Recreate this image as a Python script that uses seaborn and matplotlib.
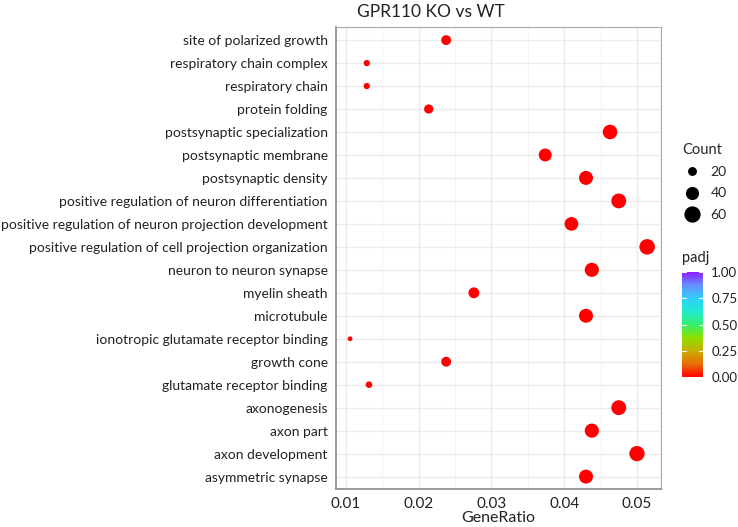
import numpy as np
import pandas as pd
import matplotlib
matplotlib.use("Agg")
import matplotlib.pyplot as plt
import seaborn as sns
from matplotlib.colors import LinearSegmentedColormap, Normalize
from matplotlib.cm import ScalarMappable
from matplotlib.lines import Line2D

terms = [
    "site of polarized growth",
    "respiratory chain complex",
    "respiratory chain",
    "protein folding",
    "postsynaptic specialization",
    "postsynaptic membrane",
    "postsynaptic density",
    "positive regulation of neuron differentiation",
    "positive regulation of neuron projection development",
    "positive regulation of cell projection organization",
    "neuron to neuron synapse",
    "myelin sheath",
    "microtubule",
    "ionotropic glutamate receptor binding",
    "growth cone",
    "glutamate receptor binding",
    "axonogenesis",
    "axon part",
    "axon development",
    "asymmetric synapse",
]
gene_ratio = [0.0238, 0.0129, 0.0129, 0.0214, 0.0463, 0.0374, 0.0430, 0.0475,
              0.0410, 0.0514, 0.0438, 0.0276, 0.0430, 0.0106, 0.0238, 0.0132,
              0.0475, 0.0438, 0.0500, 0.0430]
counts = [30, 16, 16, 27, 58, 47, 54, 60, 52, 65, 55, 35, 54, 12, 30, 17, 60, 55, 63, 54]
padj = [0.0005, 0.0008, 0.0008, 0.0006, 0.0001, 0.0002, 0.0001, 0.0001, 0.0002, 0.0001,
        0.0001, 0.0003, 0.0001, 0.0009, 0.0005, 0.0009, 0.0001, 0.0001, 0.0001, 0.0001]
size_legend_vals = [20, 40, 60]
cbar_ticks = [0.0, 0.25, 0.5, 0.75, 1.0]
title = "GPR110 KO vs WT"

df = pd.DataFrame({"Description": terms, "GeneRatio": gene_ratio,
                   "Count": counts, "padj": padj})

cmap = LinearSegmentedColormap.from_list("padj_rainbow", [
    (0.0, "#FF0000"), (0.12, "#EA6A08"), (0.25, "#C8B000"), (0.375, "#8CE000"),
    (0.5, "#34F06C"), (0.625, "#22EAD0"), (0.75, "#30D0F8"), (0.875, "#6690FF"),
    (1.0, "#8A1EFF")])

sns.set_theme(style="white")
plt.rcParams["font.family"] = ["Lato", "DejaVu Sans"]

fig = plt.figure(figsize=(7.38, 5.27), dpi=100)
ax = fig.add_axes([336/738, 1-489/527, 325/738, 462/527])

SMIN, SMAX = 12, 125
size_norm = (12, 65)
sns.scatterplot(data=df, x="GeneRatio", y="Description", size="Count",
                sizes=(SMIN, SMAX), size_norm=size_norm, hue="padj",
                hue_norm=(0, 1), palette=cmap, legend=False, linewidth=0,
                ax=ax, zorder=3)

ax.set_xlim(0.00867, 0.0533)
ax.set_ylim(len(terms) - 1 + 0.54, -0.57)
ax.set_xticks([0.01, 0.02, 0.03, 0.04, 0.05])
ax.set_xticklabels(["0.01", "0.02", "0.03", "0.04", "0.05"])
ax.set_xticks([0.015, 0.025, 0.035, 0.045], minor=True)
ax.grid(True, which="major", color="#EBEBEB", linewidth=1.0, zorder=0)
ax.grid(True, which="minor", axis="x", color="#F2F2F2", linewidth=0.6, zorder=0)
ax.set_axisbelow(True)
for s in ax.spines.values():
    s.set_color("#AAAAAA")
    s.set_linewidth(0.8)
ax.spines["left"].set_color("#8A8A8A")
ax.spines["bottom"].set_color("#8A8A8A")
ax.spines["left"].set_linewidth(1.2)
ax.spines["bottom"].set_linewidth(1.2)
ax.tick_params(axis="both", which="major", length=3, width=0.8, color="#555555",
               labelsize=10, labelcolor="#222222", pad=3)
ax.tick_params(axis="x", which="minor", length=0)
ax.tick_params(axis="x", labelsize=11, pad=3)
ax.set_ylabel("")
ax.set_xlabel("GeneRatio", fontsize=11.5, color="#222222", labelpad=0)

fig.text(357/738, 1-12/527, title, fontsize=12.5, ha="left", va="center", color="#222222")

# size legend
def size_of(c):
    return SMIN + (c - size_norm[0]) / (size_norm[1] - size_norm[0]) * (SMAX - SMIN)
handles = [Line2D([], [], linestyle="", marker="o", color="black",
                  markersize=np.sqrt(size_of(v)), label=str(v)) for v in size_legend_vals]
leg = fig.legend(handles=handles, title="Count", loc="upper left",
                 bbox_to_anchor=(677/738, 1-137/527), frameon=False,
                 fontsize=10, title_fontsize=10.5,
                 labelspacing=0.68, handletextpad=0.6, borderaxespad=0, handlelength=1.4)
leg._legend_box.align = "left"

# colorbar
cax = fig.add_axes([682/738, 1-377/527, 21/738, 105/527])
sm = ScalarMappable(norm=Normalize(0, 1), cmap=cmap)
cb = fig.colorbar(sm, cax=cax, ticks=cbar_ticks)
cb.outline.set_visible(False)
cb.ax.set_yticklabels(["0.00", "0.25", "0.50", "0.75", "1.00"])
cb.ax.tick_params(length=0, labelsize=9.5, labelcolor="#222222", pad=6)
for t in cbar_ticks:
    cax.plot([0, 0.2], [t, t], color="white", lw=0.8, transform=cax.get_yaxis_transform())
    cax.plot([0.8, 1.0], [t, t], color="white", lw=0.8, transform=cax.get_yaxis_transform())
fig.text(682/738, 1-258/527, "padj", fontsize=10.5, ha="left", va="center", color="#222222")

fig.savefig("out.png", dpi=100)
